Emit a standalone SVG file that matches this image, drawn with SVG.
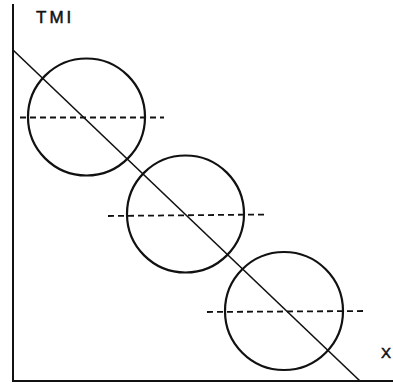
<svg xmlns="http://www.w3.org/2000/svg" width="393" height="386" viewBox="0 0 393 386">
<style>
.ax{stroke:#111;stroke-width:2;fill:none}
.ln{stroke:#111;stroke-width:1.6;fill:none}
.c{stroke:#111;stroke-width:2.2;fill:none}
.d{stroke:#111;stroke-width:1.8;stroke-dasharray:6,4;fill:none}
.t{font-family:"Liberation Sans",Arial,sans-serif;fill:#111;stroke:#111;stroke-width:0.5}
</style>
<rect width="393" height="386" fill="#fff"/>
<g id="axes">
<line class="ax" x1="13" y1="4" x2="13" y2="382"/>
<line class="ax" x1="12" y1="381" x2="393" y2="381"/>
<text class="t" x="36" y="23" font-size="17" letter-spacing="3">TMI</text>
<text class="t" x="381" y="358" font-size="15">X</text>
</g>
<g id="connectors">
<line class="ln" x1="13" y1="50" x2="360" y2="381"/>
</g>
<g id="circle1">
<circle class="c" cx="86.5" cy="117" r="58.5"/>
<line class="d" x1="20" y1="117.5" x2="164" y2="117.5"/>
</g>
<g id="circle2">
<circle class="c" cx="185.5" cy="214" r="58.5"/>
<line class="d" x1="108" y1="216" x2="267" y2="214.5"/>
</g>
<g id="circle3">
<circle class="c" cx="284" cy="311" r="59"/>
<line class="d" x1="207" y1="312" x2="366" y2="311"/>
</g>
</svg>
